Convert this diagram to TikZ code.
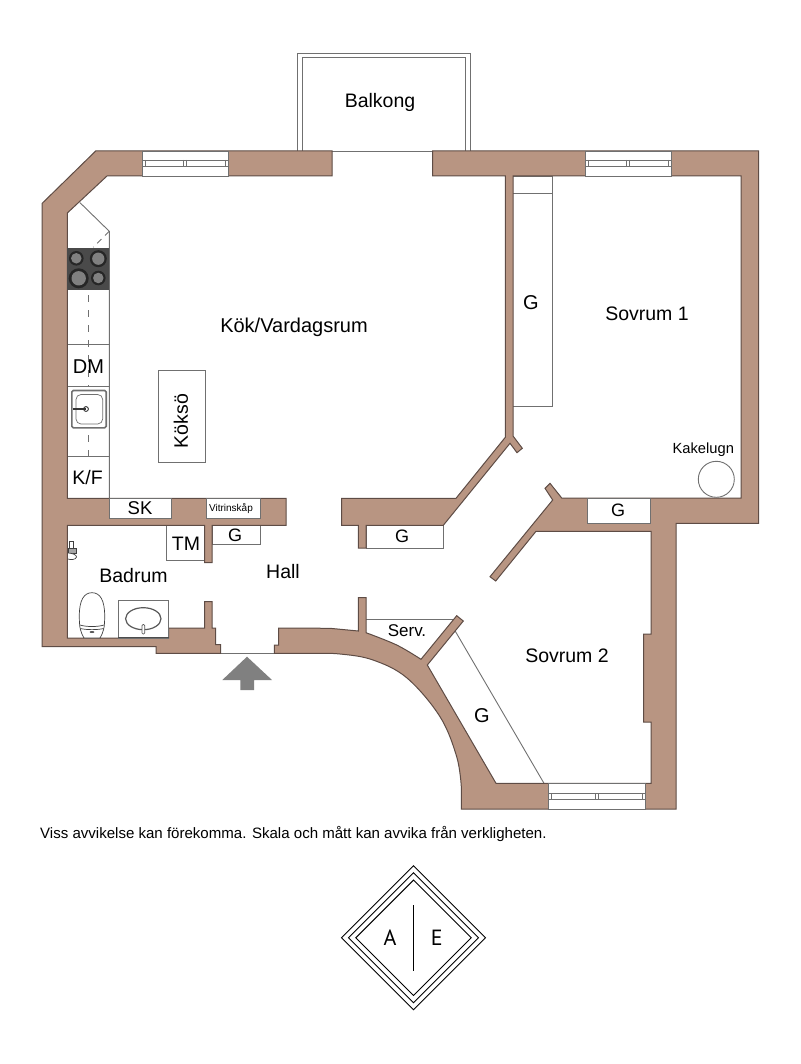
\documentclass[tikz,border=0pt]{standalone}
\usepackage{fontspec}
\setmainfont{Liberation Sans}
\newfontfamily\logofont{PT Sans}
\newcommand{\fsz}[1]{\fontsize{#1}{#1}\selectfont}
\tikzset{
  wall/.style={fill=wallc,draw=walle,line width=1pt,line join=miter},
  fix/.style={fill=white,draw=fixe,line width=0.9pt},
  thin line/.style={draw=fixe,line width=0.9pt},
  lbl/.style={inner sep=0pt,text=black,font=\fsz{19.5}},
  smalllbl/.style={lbl,font=\fsz{17}},
  dashline/.style={draw=fixe,line width=0.8pt,dash pattern=on 7pt off 8pt},
  ring/.style={draw=black,line width=0.9pt},
}
\definecolor{wallc}{HTML}{B89582}
\definecolor{walle}{HTML}{5E4C45}
\definecolor{fixe}{HTML}{707070}
\definecolor{hob}{HTML}{4A4A4A}
\definecolor{arrowc}{HTML}{808080}
\begin{document}
\begin{tikzpicture}[x=1pt,y=-1pt]
\useasboundingbox (0,0) rectangle (800,1064);
% balcony
\draw[thin line] (297.7,151) -- (297.7,53.7) -- (470,53.7) -- (470,151);
\draw[thin line] (302,151) -- (302,57.3) -- (465.3,57.3) -- (465.3,151);
\draw[thin line] (332,151) -- (432.7,151);
% entrance threshold
\draw[thin line] (220.7,653.3) -- (274.3,653.3);
% closets and fixed boxes (drawn beneath walls)
\draw[fix] (512.7,176) rectangle (552.3,406.5);
\draw[thin line] (512.7,193) -- (552.3,193);
\draw[thin line] (366,619.3) -- (454,619.3);
\draw[thin line] (455,630.7) -- (544,783.3);
\draw[fix] (587.3,498) rectangle (650.7,523.7);
\draw[fix] (366,525.3) rectangle (443.3,548);
\draw[fix] (166,525.3) rectangle (204.7,560);
\draw[fix] (212,525.3) rectangle (260.7,544.3);
\draw[fix] (109.3,498.3) rectangle (171.7,518);
\draw[fix] (206,498.3) rectangle (260.3,518);
% kitchen counter
\draw[thin line] (80,202.7) -- (109.3,231.3) -- (109.3,498.3);
\draw[thin line] (67.3,344) -- (109.3,344);
\draw[thin line] (67.3,386) -- (109.3,386);
\draw[thin line] (67.3,456.3) -- (109.3,456.3);
\draw[thin line,dash pattern=on 6pt off 5pt] (109.3,231.3) -- (93.3,247.3);
\draw[dashline] (88.3,295) -- (88.3,386);
\draw[dashline] (88.3,435) -- (88.3,456.3);
% walls
\draw[wall] (332,151) -- (95.7,151) -- (42,203.5) -- (42,646.7) -- (156,646.7) -- (156,653.3) -- (220.7,653.3) -- (220.7,644.7) -- (215.7,644.7) -- (215.7,628) -- (212,628) -- (212,601.7) -- (204.7,601.7) -- (204.7,628) -- (168.7,628) -- (168.7,638) -- (67.3,638) -- (67.3,525.3) -- (204.7,525.3) -- (204.7,562.7) -- (212,562.7) -- (212,525.3) -- (286,525.3) -- (286,498.3) -- (67.3,498.3) -- (67.3,213) -- (107,176) -- (332,176) -- cycle;
\draw[wall] (432.7,151) -- (758.5,151) -- (758.5,523.3) -- (676,523.3) -- (676,809) -- (461.3,809)
  -- plot[smooth,tension=0.6] coordinates {(461.3,786.7) (456.7,756.7) (440,716.7) (407,678) (373,660) (340,654) (310,653.3) (274.3,653.3)}
  -- (274.3,645) -- (278.7,645) -- (278.7,628) -- (330,628.3) -- (358.3,631) -- (358.3,597.7) -- (366,597.7)
  -- plot[smooth,tension=0.6] coordinates {(366,632.7) (396.7,645) (421,659.3)}
  -- (456.7,615.7) -- (463.3,621) -- (427.3,665) -- (496,783.3) -- (651,783.3) -- (651,722) -- (643.7,722) -- (643.7,634) -- (651,634) -- (651,531.3) -- (536,531.3) -- (495.7,581) -- (490,576.7) -- (552.7,500) -- (545,488.3) -- (550,483.3) -- (561.7,498) -- (741,498) -- (741,176) -- (513,176) -- (513,436) -- (522.3,448.3) -- (517,452.7) -- (510,443.3) -- (443.3,525.3) -- (366,525.3) -- (366,548) -- (358.3,548) -- (358.3,525.3) -- (341.7,525.3) -- (341.7,498.3) -- (456,498.3) -- (505.3,437.3) -- (505.3,176) -- (432.7,176) -- cycle;
% re-whiten closets cut into walls
\draw[fix] (587.3,498) rectangle (650.7,523.7);
\draw[fix] (109.3,498.3) rectangle (171.7,518);
\draw[fix] (206,498.3) rectangle (260.3,518);
% windows
\foreach \xa/\xb/\ya/\yb/\yc/\yd in {142/228/151/176/160/166.7, 585/671/151/176/160/166.7, 548.7/645/783.3/809/793/799.7}{
  \draw[fix] (\xa,\ya) rectangle (\xb,\yb);
  \draw[thin line,line width=0.7pt] (\xa,\yc) rectangle (\xb,\yd);
  \draw[thin line,line width=0.7pt] (\xa+3,\yc) -- (\xa+3,\yd);
  \draw[thin line,line width=0.7pt] (\xb-3,\yc) -- (\xb-3,\yd);
  \draw[thin line,line width=0.7pt] ({(\xa+\xb)/2-1.3},\yc) -- ({(\xa+\xb)/2-1.3},\yd);
  \draw[thin line,line width=0.7pt] ({(\xa+\xb)/2+1.3},\yc) -- ({(\xa+\xb)/2+1.3},\yd);
}
% hob
\fill[hob] (67.3,247.7) rectangle (109.3,290.3);
\foreach \cx/\cy/\r in {76.3/258.3/7.3, 98.3/258.7/8.5, 78.7/278.3/10, 98.3/278/7.3}{
  \fill[black!85] (\cx,\cy) circle (\r);
  \fill[black!50] (\cx,\cy) circle ({\r*0.72});
}
% kitchen sink
\draw[draw=fixe,line width=1.6pt,rounded corners=1.5pt,fill=white] (71.8,390.5) rectangle (106.2,427.8);
\draw[draw=fixe,line width=0.7pt,rounded corners=5pt] (76,394.5) rectangle (102.7,424);
\draw[black!80,line width=1.1pt] (73,409) -- (86,409);
\draw[black!80,line width=0.9pt] (86,409) circle (2.4);
% island
\draw[fix] (158.7,370.7) rectangle (205,462.3);
% bath fixtures
\draw[fix] (118.3,600.7) rectangle (168.7,638);
\draw[black!70,line width=1.2pt] (118.3,637.3) -- (168.7,637.3);
\draw[draw=black!65,line width=1.2pt] (143.3,618.7) ellipse (17.7 and 11);
\draw[draw=black!65,fill=white,line width=0.7pt,rounded corners=1pt] (142,624.5) rectangle (144.7,634);
\draw[draw=black!75,line width=0.7pt,fill=white] (84,638) .. controls (80.5,632) and (79.3,628) .. (79.3,616) .. controls (79.3,600) and (84,592.7) .. (92,592.7) .. controls (100,592.7) and (104.7,600) .. (104.7,616) .. controls (104.7,628) and (103.5,632) .. (100,638) -- cycle;
\draw[draw=black!75,line width=0.7pt] (80,625) .. controls (86,627) and (98,627) .. (104,625);
\draw[draw=black!75,line width=0.7pt] (80.5,628.5) .. controls (86,630) and (98,630) .. (103.5,628.5);
\fill[black!65] (92,632) ellipse (2.5 and 1);
% shower mixer
\draw[black!75,line width=0.7pt,fill=white] (69,541.7) rectangle (73.5,548);
\draw[black!75,line width=0.7pt,fill=black!35] (68,548) rectangle (76,553);
\draw[black!75,line width=0.7pt,fill=white] (68,553) .. controls (72,553) and (77,555) .. (76.5,557) .. controls (76,560) and (70,560) .. (68,559);
% stove
\draw[thin line] (716.3,479.3) circle (18);
% entrance arrow
\fill[arrowc] (247,656.7) -- (272,680) -- (254,680) -- (254,690) -- (240.3,690) -- (240.3,680) -- (222.3,680) -- cycle;
% labels
\node[lbl] (balkong) at (380,102.5) {Balkong};
\node[lbl,font=\fsz{20}] (kok) at (294,327.5) {Kök/Vardagsrum};
\node[lbl] (s1) at (647,314) {Sovrum 1};
\node[lbl,font=\fsz{20}] (g1) at (531,302.5) {G};
\node[lbl,font=\fsz{20}] (dm) at (88.5,367) {DM};
\node[lbl] (kf) at (87.5,478) {K/F};
\node[lbl,font=\fsz{18.5}] (sk) at (140,508) {SK};
\node[lbl,font=\fsz{10}] (vit) at (231,509) {Vitrinskåp};
\node[lbl] (tm) at (186,544) {TM};
\node[lbl,font=\fsz{18}] (g2) at (235,535) {G};
\node[lbl,rotate=90] (ko) at (181,421) {Köksö};
\node[lbl] (bad) at (133.5,576) {Badrum};
\node[lbl] (hall) at (283,572) {Hall};
\node[lbl,font=\fsz{18}] (g3) at (402,536) {G};
\node[smalllbl] (serv) at (407,631) {Serv.};
\node[lbl] (s2) at (567,656) {Sovrum 2};
\node[lbl,font=\fsz{20}] (g4) at (482,716) {G};
\node[lbl,font=\fsz{18}] (g5) at (618,510) {G};
\node[lbl,font=\fsz{14.7}] (kak) at (703.3,450) {Kakelugn};
\node[lbl,font=\fsz{15.05},anchor=west] (foot) at (40,833.5) {Viss avvikelse kan förekomma. Skala och mått kan avvika från verkligheten.};
% logo
\foreach \d in {72,65,57.7}{
  \draw[ring] (413.5,937.8-\d) -- (413.5+\d,937.8) -- (413.5,937.8+\d) -- (413.5-\d,937.8) -- cycle;
}
\draw[black,line width=1.1pt] (413.5,905) -- (413.5,971);
\node[lbl,font=\fsz{22}\logofont] (la) at (390,938) {A};
\node[lbl,font=\fsz{22}\logofont] (le) at (436.7,938) {E};
\end{tikzpicture}
\end{document}
